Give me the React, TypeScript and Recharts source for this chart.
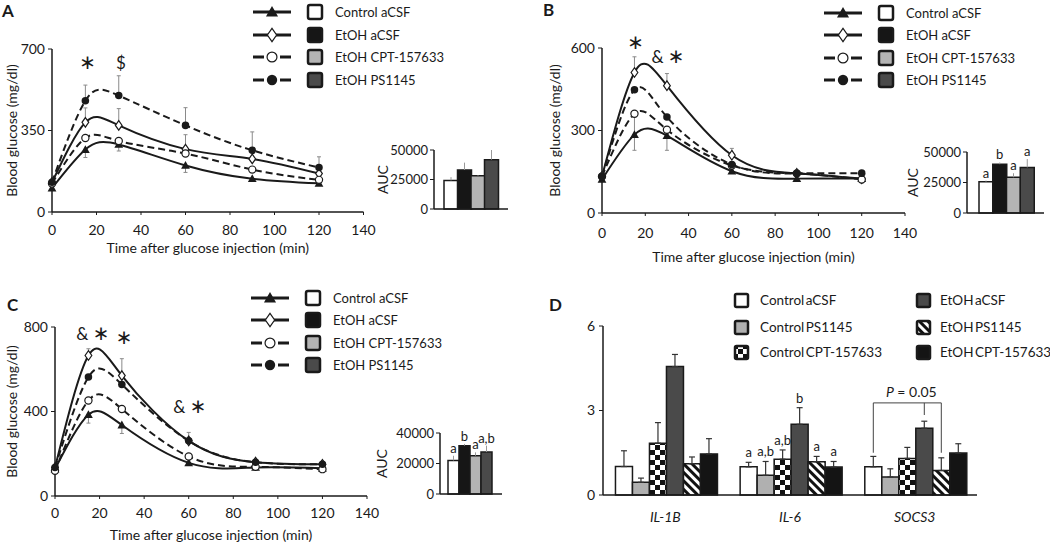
import React from "react";
import {
  Bar,
  BarChart,
  Cell,
  ErrorBar,
  Label,
  LabelList,
  Line,
  LineChart,
  ReferenceDot,
  XAxis,
  YAxis,
} from "recharts";

const INK = "#1a1a1a";
const FONT = "Lato, 'Noto Sans', sans-serif";

const TIMES = [0, 15, 30, 60, 90, 120];
const TIME_TICKS = [0, 20, 40, 60, 80, 100, 120, 140];
const GROUPS = ["Control aCSF", "EtOH aCSF", "EtOH CPT-157633", "EtOH PS1145"];
const GROUP_FILLS = ["#ffffff", "#161616", "#b4b4b4", "#4a4a4a"];
const GROUP_MARKS = ["triangle", "diamond", "ring", "dot"];
const GROUP_DASHED = [false, false, true, true];

// panel A, blood glucose (mg/dl); error bars are [down, up]
const A_CONTROL = [102, 268, 290, 200, 143, 123];
const A_ETOH = [127, 385, 372, 270, 228, 165];
const A_CPT = [122, 318, 305, 251, 182, 138];
const A_PS = [128, 478, 500, 372, 265, 191];
const A_CONTROL_ERR = [[0, 0], [34, 0], [28, 0], [30, 0], [0, 0], [0, 0]];
const A_ETOH_ERR = [[0, 0], [0, 62], [0, 72], [0, 62], [0, 35], [0, 0]];
const A_CPT_ERR = [[0, 0], [0, 0], [0, 0], [0, 0], [0, 0], [0, 0]];
const A_PS_ERR = [[0, 0], [0, 67], [0, 85], [0, 76], [0, 79], [0, 46]];
const A_AUC = [24200, 33100, 28100, 41800];
const A_AUC_ERR = [2800, 6200, 600, 8200];

// panel B
const B_CONTROL = [122, 285, 281, 152, 125, 125];
const B_ETOH = [133, 511, 463, 210, 144, 125];
const B_CPT = [133, 361, 303, 173, 144, 122];
const B_PS = [133, 448, 349, 176, 144, 145];
const B_CONTROL_ERR = [[0, 0], [0, 0], [0, 0], [0, 0], [0, 0], [0, 0]];
const B_ETOH_ERR = [[0, 0], [0, 57], [0, 44], [0, 25], [0, 0], [0, 0]];
const B_CPT_ERR = [[0, 0], [133, 0], [75, 0], [0, 0], [0, 0], [0, 0]];
const B_PS_ERR = [[0, 0], [0, 0], [0, 0], [0, 0], [0, 0], [0, 0]];
const B_AUC = [25700, 40000, 29300, 37300];
const B_AUC_ERR = [900, 1400, 3300, 6900];
const B_AUC_SIG = ["a", "b", "a", "a"];

// panel C
const C_CONTROL = [127, 385, 336, 157, 135, 131];
const C_ETOH = [135, 665, 570, 261, 160, 150];
const C_CPT = [119, 452, 412, 187, 138, 127];
const C_PS = [135, 563, 528, 261, 160, 150];
const C_CONTROL_ERR = [[0, 0], [40, 0], [40, 0], [0, 0], [0, 0], [0, 0]];
const C_ETOH_ERR = [[0, 0], [0, 32], [0, 80], [0, 40], [0, 0], [0, 0]];
const C_CPT_ERR = [[0, 0], [0, 0], [0, 0], [0, 0], [0, 0], [0, 0]];
const C_PS_ERR = [[0, 0], [0, 0], [0, 0], [0, 0], [0, 0], [0, 0]];
const C_AUC = [22000, 31700, 25100, 27500];
const C_AUC_ERR = [3100, 1100, 2200, 4200];
const C_AUC_SIG = ["a", "b", "a", "a,b"];

// significance marks above the curves
const A_NOTES = [
  { t: 16, v: 640, text: "*" },
  { t: 31, v: 640, text: "$" },
];
const B_NOTES = [
  { t: 15.5, v: 618, text: "*" },
  { t: 30.5, v: 567, text: "& *" },
];
const C_NOTES = [
  { t: 17, v: 767, text: "& *" },
  { t: 31, v: 748, text: "*" },
  { t: 60.5, v: 419, text: "& *" },
];

// panel D, relative mRNA
const GENES = ["IL-1B", "IL-6", "SOCS3"];
const D_GROUPS = [
  "Control aCSF",
  "Control PS1145",
  "Control CPT-157633",
  "EtOH aCSF",
  "EtOH PS1145",
  "EtOH CPT-157633",
];
const D_FILLS = ["#ffffff", "#b0b0b0", "url(#checker)", "#4a4a4a", "url(#stripes)", "#141414"];
const D_CONTROL_ACSF = [1.01, 1.0, 1.0];
const D_CONTROL_PS = [0.45, 0.7, 0.64];
const D_CONTROL_CPT = [1.84, 1.27, 1.3];
const D_ETOH_ACSF = [4.56, 2.51, 2.37];
const D_ETOH_PS = [1.11, 1.18, 0.87];
const D_ETOH_CPT = [1.46, 0.99, 1.49];
const D_CONTROL_ACSF_ERR = [0.56, 0.16, 0.37];
const D_CONTROL_PS_ERR = [0.15, 0.49, 0.29];
const D_CONTROL_CPT_ERR = [0.73, 0.33, 0.39];
const D_ETOH_ACSF_ERR = [0.43, 0.59, 0.25];
const D_ETOH_PS_ERR = [0.24, 0.19, 0.45];
const D_ETOH_CPT_ERR = [0.54, 0.2, 0.33];
const D_IL6_SIG = ["a", "a,b", "a,b", "b", "a", "a"];
const D_BRACKET = { gene: "SOCS3", from: 0, to: 4, mid: 3, top: 3.27, leg: 1.5, tick: 2.84 };

const D_VALUES = [D_CONTROL_ACSF, D_CONTROL_PS, D_CONTROL_CPT, D_ETOH_ACSF, D_ETOH_PS, D_ETOH_CPT];
const D_ERRS = [
  D_CONTROL_ACSF_ERR,
  D_CONTROL_PS_ERR,
  D_CONTROL_CPT_ERR,
  D_ETOH_ACSF_ERR,
  D_ETOH_PS_ERR,
  D_ETOH_CPT_ERR,
];

function Marker({ shape, x, y, s }: { shape: string; x: number; y: number; s: number }) {
  if (shape === "triangle") {
    return (
      <path
        d={`M${x},${y - s * 0.55}L${x + s * 0.55},${y + s * 0.42}L${x - s * 0.55},${y + s * 0.42}Z`}
        fill={INK}
      />
    );
  }
  if (shape === "diamond") {
    return (
      <path
        d={`M${x},${y - s * 0.6}L${x + s * 0.42},${y}L${x},${y + s * 0.6}L${x - s * 0.42},${y}Z`}
        fill="#fff"
        stroke={INK}
        strokeWidth={1.2}
      />
    );
  }
  if (shape === "ring") {
    return <circle cx={x} cy={y} r={s * 0.45} fill="#fff" stroke={INK} strokeWidth={1.2} />;
  }
  return <circle cx={x} cy={y} r={s * 0.47} fill={INK} />;
}

// asterisks drawn as a centred star glyph, other marks as plain text
function NoteText({ viewBox, text }: { viewBox: any; text: string }) {
  const cx = viewBox.x + viewBox.width / 2;
  const cy = viewBox.y + viewBox.height / 2;
  return (
    <text x={cx} y={cy + 6} textAnchor="middle" fontSize={17} fill={INK}>
      {text.split("").map((ch, i) =>
        ch === "*" ? (
          <tspan key={i} fontFamily="'DejaVu Sans'" fontSize={20}>
            {"\u2217"}
          </tspan>
        ) : (
          <tspan key={i}>{ch}</tspan>
        )
      )}
    </text>
  );
}

function PatternDefs() {
  return (
    <svg width={0} height={0} style={{ position: "absolute" }}>
      <defs>
        <pattern id="checker" width={10} height={10} patternUnits="userSpaceOnUse">
          <rect width={10} height={10} fill="#fff" />
          <rect width={5} height={5} fill="#111" />
          <rect x={5} y={5} width={5} height={5} fill="#111" />
        </pattern>
        <pattern
          id="stripes"
          width={6}
          height={6}
          patternUnits="userSpaceOnUse"
          patternTransform="rotate(-45)"
        >
          <rect width={6} height={6} fill="#fff" />
          <rect width={3} height={6} fill="#111" />
        </pattern>
      </defs>
    </svg>
  );
}

type GttProps = {
  left: number;
  top: number;
  width: number;
  height: number;
  margin: { top: number; right: number; bottom: number; left: number };
  yWidth: number;
  yLabelOffset: number;
  xHeight: number;
  tickGap: number;
  yMax: number;
  yTicks: number[];
  series: number[][];
  errors: number[][][];
  notes: { t: number; v: number; text: string }[];
};

function GttChart(p: GttProps) {
  const keys = ["control", "etoh", "cpt", "ps"];
  const rows = TIMES.map((t, i) => {
    const row: Record<string, any> = { t };
    keys.forEach((k, j) => {
      row[k] = p.series[j][i];
      row[k + "Err"] = p.errors[j][i];
    });
    return row;
  });
  return (
    <div style={{ position: "absolute", left: p.left, top: p.top }}>
      <LineChart width={p.width} height={p.height} data={rows} margin={p.margin}>
        <XAxis
          dataKey="t"
          type="number"
          domain={[0, 140]}
          ticks={TIME_TICKS}
          interval={0}
          height={p.xHeight}
          tickSize={3}
          tickMargin={p.tickGap - 3}
          axisLine={{ stroke: INK, strokeWidth: 1.5 }}
          tickLine={{ stroke: INK }}
          tick={{ fill: INK, fontSize: 14 }}
        >
          <Label
            value="Time after glucose injection (min)"
            position="insideBottom"
            offset={0}
            style={{ fontSize: 14, fill: INK }}
          />
        </XAxis>
        <YAxis
          domain={[0, p.yMax]}
          ticks={p.yTicks}
          interval={0}
          width={p.yWidth}
          tickSize={4}
          tickMargin={3}
          axisLine={{ stroke: INK, strokeWidth: 1.5 }}
          tickLine={{ stroke: INK }}
          tick={{ fill: INK, fontSize: 14 }}
        >
          <Label
            value="Blood glucose (mg/dl)"
            angle={-90}
            position="insideLeft"
            offset={p.yLabelOffset}
            style={{ textAnchor: "middle", fontSize: 14, fill: INK }}
          />
        </YAxis>
        {keys.map((k, j) => (
          <Line
            key={k}
            dataKey={k}
            type="natural"
            stroke={INK}
            strokeWidth={2}
            strokeDasharray={GROUP_DASHED[j] ? "7 4" : undefined}
            isAnimationActive={false}
            activeDot={false}
            dot={(d: any) => (
              <Marker key={`${k}-${d.index}`} shape={GROUP_MARKS[j]} x={d.cx} y={d.cy} s={8} />
            )}
          >
            <ErrorBar dataKey={k + "Err"} direction="y" width={2} stroke="#8a8a8a" strokeWidth={1} />
          </Line>
        ))}
        {p.notes.map((n) => (
          <ReferenceDot
            key={n.text + n.t}
            x={n.t}
            y={n.v}
            r={1}
            fill="none"
            stroke="none"
            ifOverflow="visible"
            label={(lp: any) => <NoteText viewBox={lp.viewBox} text={n.text} />}
          />
        ))}
      </LineChart>
    </div>
  );
}

type AucProps = {
  left: number;
  top: number;
  margin: { top: number; right: number; bottom: number; left: number };
  yWidth: number;
  labelOffset: number;
  padding: { left: number; right: number };
  yMax: number;
  yTicks: number[];
  values: number[];
  errs: number[];
  sig?: string[];
};

function AucChart(p: AucProps) {
  const rows = GROUPS.map((g, i) => ({ group: g, auc: p.values[i], err: [0, p.errs[i]] }));
  const sigLabel = (props: any) => {
    const vb = props.viewBox ?? props;
    const i = props.index;
    if (!p.sig || i == null) return null;
    const k = vb.height / p.values[i];
    const top = vb.y - p.errs[i] * k;
    return (
      <text x={vb.x + vb.width / 2} y={top - 3} textAnchor="middle" fontSize={13} fill={INK}>
        {p.sig[i]}
      </text>
    );
  };
  return (
    <div style={{ position: "absolute", left: p.left, top: p.top }}>
      <BarChart width={150} height={110} data={rows} margin={p.margin} barCategoryGap={0}>
        <XAxis
          dataKey="group"
          height={1}
          tick={false}
          tickLine={false}
          padding={p.padding}
          axisLine={{ stroke: INK, strokeWidth: 1.5 }}
        />
        <YAxis
          domain={[0, p.yMax]}
          ticks={p.yTicks}
          interval={0}
          width={p.yWidth}
          tickSize={4}
          tickMargin={2}
          axisLine={{ stroke: INK, strokeWidth: 1.5 }}
          tickLine={{ stroke: INK }}
          tick={{ fill: INK, fontSize: 13 }}
        >
          <Label
            value="AUC"
            angle={-90}
            position="insideLeft"
            offset={p.labelOffset}
            style={{ textAnchor: "middle", fontSize: 14, fill: INK }}
          />
        </YAxis>
        <Bar dataKey="auc" stroke={INK} strokeWidth={1.5} isAnimationActive={false}>
          {rows.map((r, i) => (
            <Cell key={r.group} fill={GROUP_FILLS[i]} />
          ))}
          <ErrorBar dataKey="err" direction="y" width={0} stroke="#999" strokeWidth={1} />
          {p.sig && <LabelList dataKey="auc" content={sigLabel} />}
        </Bar>
      </BarChart>
    </div>
  );
}

function LineLegend({ x, y, step }: { x: number; y: number; step: number }) {
  return (
    <>
      {GROUPS.map((g, i) => (
        <div
          key={g}
          style={{ position: "absolute", left: x, top: y + i * step - 9, height: 18, width: 200 }}
        >
          <svg width={40} height={18} style={{ position: "absolute", left: 0, top: 0 }}>
            <line
              x1={1}
              x2={39}
              y1={9}
              y2={9}
              stroke={INK}
              strokeWidth={3}
              strokeDasharray={GROUP_DASHED[i] ? "11 16" : undefined}
            />
            <Marker shape={GROUP_MARKS[i]} x={20} y={9} s={11} />
          </svg>
          <svg width={18} height={18} style={{ position: "absolute", left: 54, top: 0 }}>
            <rect x={2} y={2} width={14} height={14} rx={2} fill={GROUP_FILLS[i]} stroke={INK} strokeWidth={2.5} />
          </svg>
          <span
            style={{ position: "absolute", left: 83, top: 0, lineHeight: "18px", fontSize: 13, whiteSpace: "nowrap" }}
          >
            {g}
          </span>
        </div>
      ))}
    </>
  );
}

function GeneLegend() {
  const cols = [
    { sq: 735, tx: 760 },
    { sq: 917, tx: 940 },
  ];
  const rowsY = [300, 327, 352];
  return (
    <>
      {D_GROUPS.map((g, i) => {
        const c = cols[Math.floor(i / 3)];
        const y = rowsY[i % 3];
        return (
          <React.Fragment key={g}>
            <svg width={17} height={17} style={{ position: "absolute", left: c.sq - 2, top: y - 8.5 }}>
              <rect x={2} y={2} width={13} height={13} rx={1.5} fill={D_FILLS[i]} stroke={INK} strokeWidth={2.5} />
            </svg>
            <span
              style={{
                position: "absolute",
                left: c.tx,
                top: y - 9,
                lineHeight: "18px",
                fontSize: 13.5,
                wordSpacing: -2,
                whiteSpace: "nowrap",
              }}
            >
              {g}
            </span>
          </React.Fragment>
        );
      })}
    </>
  );
}

function GeneChart() {
  const keys = ["s0", "s1", "s2", "s3", "s4", "s5"];
  const rows = GENES.map((gene, gi) => {
    const row: Record<string, any> = { gene };
    keys.forEach((k, j) => {
      row[k] = D_VALUES[j][gi];
      row[k + "Err"] = [0, D_ERRS[j][gi]];
    });
    return row;
  });
  const il6 = GENES.indexOf("IL-6");
  const sigLabel = (j: number) => (props: any) => {
    const vb = props.viewBox ?? props;
    const i = props.index;
    if (i !== il6) return null;
    const k = vb.height / D_VALUES[j][i];
    const top = vb.y - D_ERRS[j][i] * k;
    return (
      <text x={vb.x + vb.width / 2} y={top - 5} textAnchor="middle" fontSize={13} fill={INK}>
        {D_IL6_SIG[j]}
      </text>
    );
  };
  const bracket = (props: any) => {
    const vb = props.viewBox ?? props;
    const i = props.index;
    if (GENES[i] !== D_BRACKET.gene) return null;
    const k = vb.height / D_VALUES[0][i];
    const base = vb.y + vb.height;
    const w = vb.width;
    const xa = vb.x + w * (D_BRACKET.from + 0.5);
    const xb = vb.x + w * (D_BRACKET.to + 0.5);
    const xm = vb.x + w * (D_BRACKET.mid + 0.5);
    const yTop = base - D_BRACKET.top * k;
    const yLeg = base - D_BRACKET.leg * k;
    const yTick = base - D_BRACKET.tick * k;
    return (
      <g>
        <path
          d={`M${xa},${yLeg}V${yTop}H${xb}V${yLeg}M${xm},${yTop}V${yTick}`}
          fill="none"
          stroke="#444"
          strokeWidth={1}
        />
        <text x={(xa + xb) / 2 + 4} y={yTop - 6} textAnchor="middle" fontSize={14} fill={INK}>
          <tspan fontStyle="italic">P</tspan> = 0.05
        </text>
      </g>
    );
  };
  return (
    <div style={{ position: "absolute", left: 540, top: 280 }}>
      <BarChart
        width={460}
        height={250}
        data={rows}
        margin={{ top: 46, right: 23, bottom: 5, left: 33 }}
        barCategoryGap="10%"
        barGap={0}
      >
        <XAxis
          dataKey="gene"
          height={30}
          tickLine={false}
          tickSize={6}
          tickMargin={11}
          axisLine={{ stroke: INK, strokeWidth: 1.5 }}
          tick={{ fill: INK, fontSize: 14, fontStyle: "italic" }}
        />
        <YAxis
          domain={[0, 6]}
          ticks={[0, 3, 6]}
          interval={0}
          width={30}
          tickSize={4}
          tickMargin={4}
          axisLine={{ stroke: INK, strokeWidth: 1.5 }}
          tickLine={{ stroke: INK }}
          tick={{ fill: INK, fontSize: 14 }}
        />
        {keys.map((k, j) => (
          <Bar
            key={k}
            dataKey={k}
            name={D_GROUPS[j]}
            fill={D_FILLS[j]}
            stroke={INK}
            strokeWidth={1.5}
            isAnimationActive={false}
          >
            <ErrorBar dataKey={k + "Err"} direction="y" width={3} stroke="#333" strokeWidth={1.2} />
            <LabelList dataKey={k} content={sigLabel(j)} />
            {j === 0 && <LabelList dataKey={k} content={bracket} />}
          </Bar>
        ))}
      </BarChart>
    </div>
  );
}

function Letter({ text, x, y }: { text: string; x: number; y: number }) {
  return (
    <span
      style={{
        position: "absolute",
        left: x,
        top: y - 7,
        fontSize: 17,
        lineHeight: "17px",
        fontWeight: 700,
      }}
    >
      {text}
    </span>
  );
}

export default function App() {
  return (
    <div
      style={{
        position: "relative",
        width: 1050,
        height: 543,
        overflow: "hidden",
        background: "#fff",
        color: INK,
        fontFamily: FONT,
      }}
    >
      <style>{"body{margin:0}"}</style>
      <PatternDefs />

      <GttChart
        left={0}
        top={0}
        width={380}
        height={270}
        margin={{ top: 49, right: 16.5, bottom: 17, left: 8 }}
        yWidth={44}
        yLabelOffset={4}
        xHeight={41}
        tickGap={13}
        yMax={700}
        yTicks={[0, 350, 700]}
        series={[A_CONTROL, A_ETOH, A_CPT, A_PS]}
        errors={[A_CONTROL_ERR, A_ETOH_ERR, A_CPT_ERR, A_PS_ERR]}
        notes={A_NOTES}
      />
      <AucChart
        left={370}
        top={120}
        margin={{ top: 30, right: 12, bottom: 20, left: 8 }}
        yWidth={56}
        labelOffset={5}
        padding={{ left: 10, right: 10 }}
        yMax={50000}
        yTicks={[0, 25000, 50000]}
        values={A_AUC}
        errs={A_AUC_ERR}
      />
      <LineLegend x={252} y={12} step={22.5} />
      <Letter text="A" x={2} y={9} />

      <GttChart
        left={540}
        top={0}
        width={380}
        height={272}
        margin={{ top: 48, right: 15, bottom: 10, left: 13 }}
        yWidth={49}
        yLabelOffset={2}
        xHeight={49}
        tickGap={15}
        yMax={600}
        yTicks={[0, 300, 600]}
        series={[B_CONTROL, B_ETOH, B_CPT, B_PS]}
        errors={[B_CONTROL_ERR, B_ETOH_ERR, B_CPT_ERR, B_PS_ERR]}
        notes={B_NOTES}
      />
      <AucChart
        left={900}
        top={120}
        margin={{ top: 32, right: 6, bottom: 16, left: 11 }}
        yWidth={56}
        labelOffset={2}
        padding={{ left: 12, right: 10 }}
        yMax={50000}
        yTicks={[0, 25000, 50000]}
        values={B_AUC}
        errs={B_AUC_ERR}
        sig={B_AUC_SIG}
      />
      <LineLegend x={823} y={13} step={22.3} />
      <Letter text="B" x={543} y={8} />

      <GttChart
        left={0}
        top={280}
        width={385}
        height={263}
        margin={{ top: 47, right: 18, bottom: 3, left: 11 }}
        yWidth={44}
        yLabelOffset={1}
        xHeight={44}
        tickGap={12}
        yMax={800}
        yTicks={[0, 400, 800]}
        series={[C_CONTROL, C_ETOH, C_CPT, C_PS]}
        errors={[C_CONTROL_ERR, C_ETOH_ERR, C_CPT_ERR, C_PS_ERR]}
        notes={C_NOTES}
      />
      <AucChart
        left={370}
        top={400}
        margin={{ top: 33, right: 18, bottom: 15, left: 10 }}
        yWidth={60}
        labelOffset={2}
        padding={{ left: 8, right: 10 }}
        yMax={40000}
        yTicks={[0, 20000, 40000]}
        values={C_AUC}
        errs={C_AUC_ERR}
        sig={C_AUC_SIG}
      />
      <LineLegend x={250} y={298} step={22.3} />
      <Letter text="C" x={7} y={303} />

      <GeneChart />
      <GeneLegend />
      <Letter text="D" x={549} y={303} />
    </div>
  );
}
